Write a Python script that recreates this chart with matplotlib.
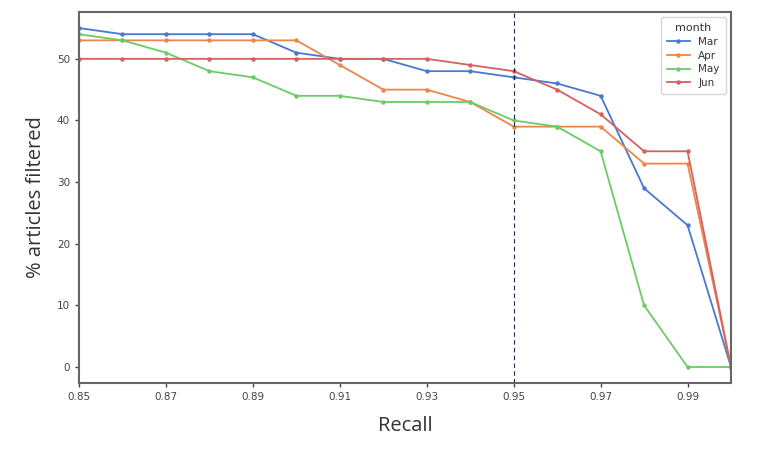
import matplotlib
matplotlib.use("Agg")
import matplotlib.pyplot as plt

recall = [0.85, 0.86, 0.87, 0.88, 0.89, 0.90, 0.91, 0.92, 0.93, 0.94, 0.95, 0.96, 0.97, 0.98, 0.99, 1.00]
mar = [55, 54, 54, 54, 54, 51, 50, 50, 48, 48, 47, 46, 44, 29, 23, 0]
apr = [53, 53, 53, 53, 53, 53, 49, 45, 45, 43, 39, 39, 39, 33, 33, 0]
may = [54, 53, 51, 48, 47, 44, 44, 43, 43, 43, 40, 39, 35, 10, 0, 0]
jun = [50, 50, 50, 50, 50, 50, 50, 50, 50, 49, 48, 45, 41, 35, 35, 0]
months = ["Mar", "Apr", "May", "Jun"]
series = [mar, apr, may, jun]
colors = ["#4878d0", "#ee854a", "#6acc64", "#d65f5f"]
xticks = [0.85, 0.87, 0.89, 0.91, 0.93, 0.95, 0.97, 0.99]
yticks = [0, 10, 20, 30, 40, 50]
threshold = 0.95

fig = plt.figure(figsize=(7.61, 4.53), dpi=100)
ax = fig.add_axes([0.1038, 0.1545, 0.8568, 0.819])

for name, vals, c in zip(months, series, colors):
    ax.plot(recall, vals, color=c, marker="o", markersize=2.2, linewidth=1.3, label=name)

ax.axvline(threshold, color="#1f2a4a", linestyle=(0, (4, 3)), linewidth=0.8)

ax.set_xlim(0.85, 1.0)
ax.set_ylim(-2.6, 57.6)
ax.set_xticks(xticks)
ax.set_xticklabels([f"{t:.2f}" for t in xticks])
ax.set_yticks(yticks)
ax.tick_params(labelsize=7.5, colors="#444444", length=3, width=1, direction="out")
for s in ax.spines.values():
    s.set_color("#666666")
    s.set_linewidth(1.5)

ax.set_xlabel("Recall", fontsize=14.5, family="Open Sans", color="#333333", labelpad=10)
ax.set_ylabel("% articles filtered", fontsize=14.5, family="Open Sans", color="#333333", labelpad=8)

leg = ax.legend(title="month", loc="upper right", fontsize=7.5, title_fontsize=8,
                frameon=True, handlelength=2.2, borderpad=0.6, labelspacing=0.35)
leg.get_frame().set_edgecolor("#cccccc")
for t in leg.get_texts():
    t.set_color("#333333")
leg.get_title().set_color("#333333")

fig.savefig("out.png", dpi=100)
